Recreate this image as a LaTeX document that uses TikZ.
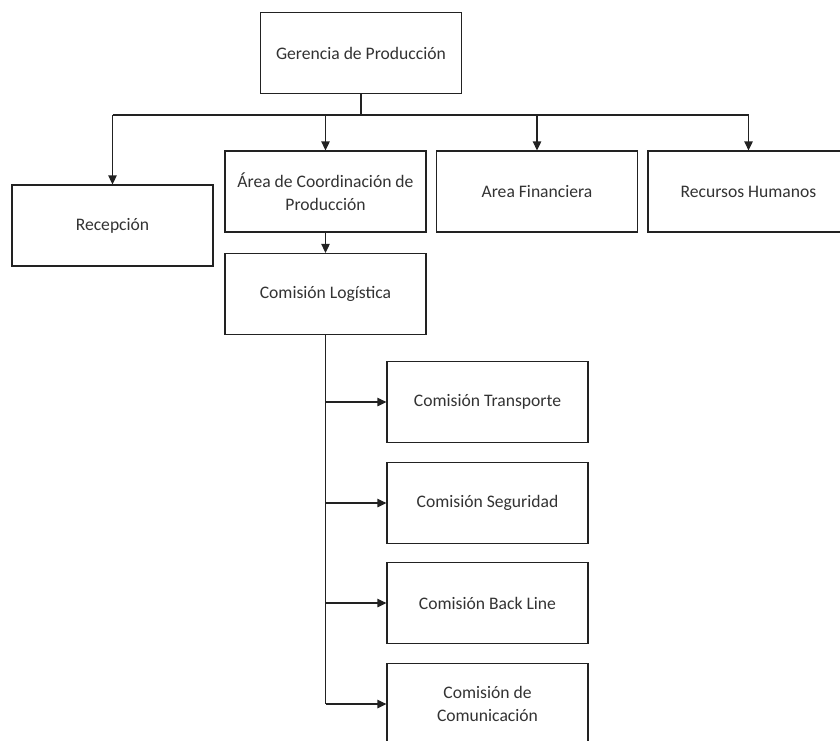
\documentclass[tikz,border=0pt]{standalone}
\usepackage{fontspec}
\setmainfont{Carlito}
\usetikzlibrary{arrows.meta}
\definecolor{ink}{HTML}{222222}
\definecolor{txt}{HTML}{333333}
\begin{document}
\begin{tikzpicture}[x=1pt,y=-1pt,
  unit/.style={draw=ink,line width=1.3pt,fill=white,minimum width=201pt,minimum height=81pt,
    inner sep=0pt,align=center,text=txt,font=\fontsize{17.6}{22.5}\selectfont},
  link/.style={draw=ink,line width=1.3pt},
  arr/.style={link,-{Triangle[length=9pt,width=8.5pt]}}]
\useasboundingbox (0,0) rectangle (840,740);
\fill[white] (0,0) rectangle (840,740);
\clip (0,0) rectangle (840,740);

% top level
\node[unit] (ger) at (361,53) {Gerencia de Producción};

% second level
\node[unit] (rec)  at (112.5,225.5) {Recepción};
\node[unit] (area) at (325.5,191.5) {Área de Coordinación de\\Producción};
\node[unit] (fin)  at (537,191.5) {Area Financiera};
\node[unit] (rh)   at (748.5,191.5) {Recursos Humanos};

% logistics and its commissions
\node[unit] (log) at (325.5,294) {Comisión Logística};
\node[unit] (tra) at (487.5,402) {Comisión Transporte};
\node[unit] (seg) at (487.5,503) {Comisión Seguridad};
\node[unit] (bl)  at (487.5,603) {Comisión Back Line};
\node[unit] (com) at (487.5,704) {Comisión de\\Comunicación};

% branching bar under the management box
\coordinate (bar) at (361,115);
\draw[link] (ger.south) -- (bar);
\draw[link] (rec.north |- bar) -- (rh.north |- bar);
\foreach \n in {rec,area,fin,rh}
  \draw[arr] (\n.north |- bar) -- (\n.north);

\draw[arr] (area.south) -- (log.north);

% trunk from logistics to the commissions
\draw[link] (log.south) -- (log.south |- com.west);
\foreach \n in {tra,seg,bl,com}
  \draw[arr] (log.south |- \n.west) -- (\n.west);
\end{tikzpicture}
\end{document}
